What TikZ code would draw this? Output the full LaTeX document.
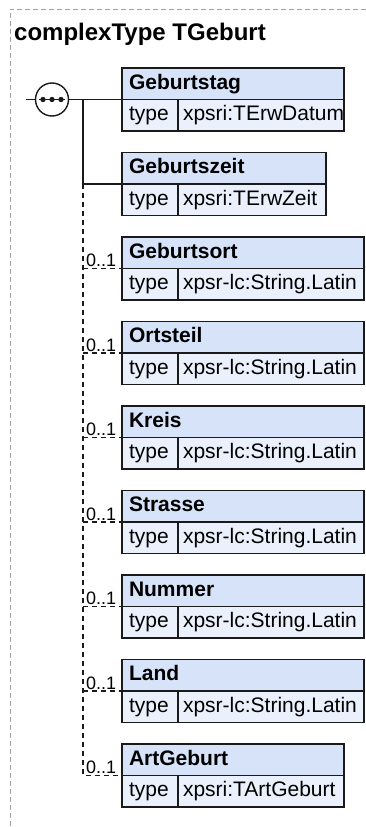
\documentclass[tikz,border=0pt]{standalone}
\usepackage{fontspec}
\setmainfont{Liberation Sans}
\usepackage{xcolor}
\usetikzlibrary{positioning}
\definecolor{HdrFill}{RGB}{214,227,248}
\definecolor{RowFill}{RGB}{234,241,252}
\definecolor{LineDk}{RGB}{26,26,26}
\definecolor{FrameGr}{RGB}{160,160,160}
\tikzset{
  cell/.style={draw=LineDk,line width=1.4pt,outer sep=0pt,inner ysep=0pt,
               minimum height=31.5pt,text height=15pt,text depth=4pt,
               align=left,font=\fontsize{21}{24}\selectfont},
  hdr/.style={cell,fill=HdrFill,inner xsep=7pt,
              font=\fontsize{21}{24}\selectfont\bfseries},
  tcell/.style={cell,fill=RowFill,inner xsep=7pt,minimum width=56pt,text width=42pt},
  vcell/.style={cell,fill=RowFill,inner xsep=5pt},
  seqc/.style={circle,draw=LineDk,fill=white,line width=1.4pt,
               minimum size=33pt,inner sep=0pt},
  conn/.style={draw=LineDk,line width=1.5pt},
  optconn/.style={conn,dash pattern=on 5pt off 4pt},
  mult/.style={inner sep=0pt,font=\fontsize{18}{20}\selectfont},
  ttl/.style={inner sep=0pt,font=\fontsize{24}{28}\selectfont\bfseries},
  frame/.style={draw=FrameGr,line width=1pt,dash pattern=on 5pt off 3pt},
}
\begin{document}
\begin{tikzpicture}[x=1pt,y=-1pt]
  \useasboundingbox (0,0) rectangle (366,827);
  \draw[frame] (366,9) -- (10,9) -- (10,827);
  \node[ttl,anchor=base west] (title) at (14,40) {complexType TGeburt};
  % elements of the sequence
  \foreach \i/\nm/\w/\tp in {1/Geburtstag/222/xpsri:TErwDatum,
      2/Geburtszeit/204/xpsri:TErwZeit,
      3/Geburtsort/242/xpsr-lc:String.Latin,
      4/Ortsteil/242/xpsr-lc:String.Latin,
      5/Kreis/242/xpsr-lc:String.Latin,
      6/Strasse/242/xpsr-lc:String.Latin,
      7/Nummer/242/xpsr-lc:String.Latin,
      8/Land/242/xpsr-lc:String.Latin,
      9/ArtGeburt/222/xpsri:TArtGeburt}{
    \pgfmathsetmacro\ytop{68+84.5*(\i-1)}
    \pgfmathsetmacro\hw{\w-14}
    \pgfmathsetmacro\vmw{\w-56}
    \pgfmathsetmacro\vw{\w-66}
    \node[hdr,minimum width=\w pt,text width=\hw pt,anchor=north west]
      (h\i) at (122,\ytop) {\mbox{\nm}};
    \node[tcell,below right=0pt and 0pt of h\i.south west] (t\i) {type};
    \node[vcell,minimum width=\vmw pt,text width=\vw pt,right=0pt of t\i]
      (v\i) {\mbox{\tp}};
  }
  % sequence compositor
  \node[seqc] (seq) at (52,99.5) {};
  \draw[conn] ([xshift=-13pt]seq.center) -- ([xshift=13pt]seq.center);
  \foreach \dx in {-9,0,9}
    \fill[LineDk] ([xshift=\dx pt]seq.center) circle (2.7pt);
  \coordinate (inp) at (26,99.5);
  \coordinate (br) at (83,99.5);
  \draw[conn] (inp) -- (seq.west);
  \draw[conn] (seq.east) -- (h1.south west);
  \draw[conn] (br) |- (h2.south west);
  \draw[optconn] (br |- h2.south west) |- (h9.south west);
  \foreach \i in {3,...,8}
    \draw[optconn] (br |- h\i.south west) -- (h\i.south west);
  \foreach \i in {3,...,9}
    \node[mult,anchor=south west] (m\i)
      at ([xshift=3pt,yshift=1.5pt]br |- h\i.south west) {0..1};
\end{tikzpicture}
\end{document}
